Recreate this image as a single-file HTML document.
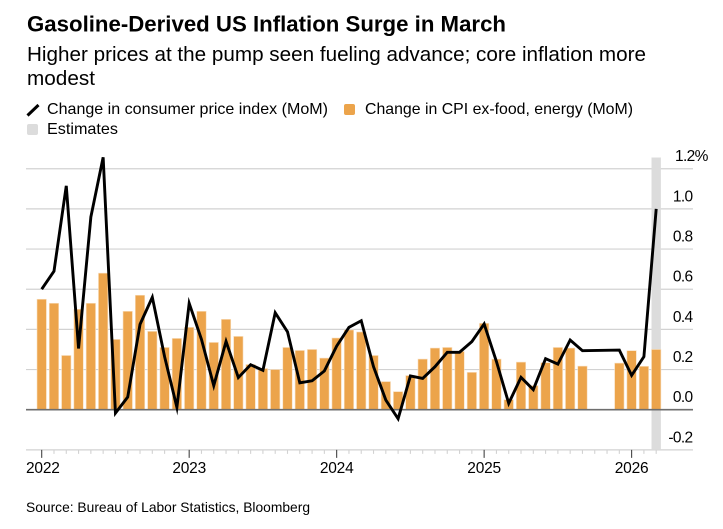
<!DOCTYPE html>
<html lang="en">
<head>
<meta charset="utf-8">
<title>Gasoline-Derived US Inflation Surge in March</title>
<style>
html,body{margin:0;padding:0;background:#fff;width:723px;height:529px;overflow:hidden}
svg{display:block;font-family:"Liberation Sans",sans-serif}
text{fill:#000}
</style>
</head>
<body>
<svg id="chart" width="723" height="529" viewBox="0 0 723 529" xmlns="http://www.w3.org/2000/svg">
  <rect x="0" y="0" width="723" height="529" fill="#fff"/>
  <text x="27" y="31.5" font-size="22" font-weight="700" textLength="479" lengthAdjust="spacingAndGlyphs">Gasoline-Derived US Inflation Surge in March</text>
  <text x="27" y="61" font-size="20.5" textLength="619" lengthAdjust="spacingAndGlyphs">Higher prices at the pump seen fueling advance; core inflation more</text>
  <text x="27" y="85" font-size="20.5" textLength="68" lengthAdjust="spacingAndGlyphs">modest</text>

  <line x1="27.5" y1="115.5" x2="38.5" y2="105" stroke="#000" stroke-width="3"/>
  <text x="47" y="114" font-size="16" textLength="281" lengthAdjust="spacingAndGlyphs">Change in consumer price index (MoM)</text>
  <rect x="344" y="104" width="11" height="11" rx="2" fill="#eca44b"/>
  <text x="365" y="114" font-size="16" textLength="268" lengthAdjust="spacingAndGlyphs">Change in CPI ex-food, energy (MoM)</text>
  <rect x="27" y="124" width="11" height="11" rx="2" fill="#dcdcdc"/>
  <text x="47" y="134" font-size="16" textLength="71" lengthAdjust="spacingAndGlyphs">Estimates</text>

  <g id="grid"></g>
  <g id="band"></g>
  <g id="bars"></g>
  <g id="zero"></g>
  <g id="ticks"></g>
  <g id="lines"></g>
  <g id="ylabels"></g>
  <g id="xlabels"></g>

  <text x="26" y="512" font-size="14" textLength="284" lengthAdjust="spacingAndGlyphs">Source: Bureau of Labor Statistics, Bloomberg</text>
</svg>
<script>
var years = [2022, 2023, 2024, 2025, 2026];
var yTicks = [1.2, 1.0, 0.8, 0.6, 0.4, 0.2, 0.0, -0.2];
var yTickLabels = ['1.2%', '1.0', '0.8', '0.6', '0.4', '0.2', '0.0', '-0.2'];
var estimateMonth = 50;
var coreCpi = [
  0.55, 0.53, 0.27, 0.50, 0.53, 0.68, 0.35, 0.49, 0.57, 0.39, 0.31, 0.355,
  0.41, 0.49, 0.335, 0.45, 0.365, 0.225, 0.205, 0.20, 0.31, 0.295, 0.30, 0.257,
  0.357, 0.397, 0.387, 0.27, 0.14, 0.09, 0.17, 0.252, 0.307, 0.31, 0.29, 0.186,
  0.43, 0.252, 0.05, 0.237, 0.12, 0.234, 0.31, 0.307, 0.217, null, null, 0.232,
  0.294, 0.216, 0.30
];
var headlineCpi = [
  0.60, 0.69, 1.115, 0.305, 0.96, 1.257, -0.017, 0.063, 0.425, 0.56, 0.264, 0.012,
  0.53, 0.35, 0.12, 0.34, 0.16, 0.224, 0.196, 0.483, 0.388, 0.134, 0.144, 0.193,
  0.317, 0.41, 0.443, 0.214, 0.048, -0.045, 0.168, 0.156, 0.214, 0.286, 0.286, 0.339,
  0.427, 0.24, 0.032, 0.161, 0.10, 0.254, 0.227, 0.347, 0.294, null, null, 0.297,
  0.171, 0.264, 1.0
];

var SVGNS = 'http://www.w3.org/2000/svg';
function xScale(i) { return 41.7 + i * 12.29; }
function yScale(v) { return 409.7 - v * 200.8; }
function make(tag, parentId, props) {
  var el = document.createElementNS(SVGNS, tag);
  for (var k in props) { el.setAttribute(k, props[k]); }
  document.getElementById(parentId).appendChild(el);
  return el;
}
var el, i;

yTicks.forEach(function (t, n) {
  if (t === 0) { return; }
  el = make('line', 'grid', { x1: 26, x2: 693, y1: yScale(t), y2: yScale(t), stroke: '#d2d2d2', 'stroke-width': 1.2 });
  
  
});

el = make('rect', 'band', {
  x: xScale(estimateMonth) - 4.7, y: 157.5, width: 9.4, height: yScale(-0.2) - 157.5, fill: '#dcdcdc'
});



coreCpi.forEach(function (v, m) {
  if (v === null) { return; }
  el = make('rect', 'bars', {
    x: xScale(m) - 4.7, y: yScale(v), width: 9.4, height: yScale(0) - yScale(v),
    fill: '#eca44b', stroke: '#f8dfc0', 'stroke-width': 0.6
  });
  
  
});

el = make('line', 'zero', { x1: 26, x2: 693, y1: yScale(0), y2: yScale(0), stroke: '#6e6e6e', 'stroke-width': 1.6 });



for (i = 0; i < coreCpi.length; i++) {
  var isYear = i % 12 === 0;
  el = make('line', 'ticks', {
    x1: xScale(i), x2: xScale(i), y1: yScale(-0.2), y2: yScale(-0.2) + (isYear ? 8 : 4),
    stroke: isYear ? '#444' : '#d2d2d2', 'stroke-width': 1.1
  });
  
  
}

var pts = [];
headlineCpi.forEach(function (v, m) {
  if (v !== null) { pts.push(xScale(m).toFixed(2) + ',' + yScale(v).toFixed(2)); }
});
el = make('polyline', 'lines', {
  points: pts.join(' '), fill: 'none', stroke: '#000', 'stroke-width': 2.9, 'stroke-linejoin': 'miter', 'stroke-miterlimit': 6
});



yTicks.forEach(function (t, n) {
  var isTop = n === 0;
  el = make('text', 'ylabels', {
    x: isTop ? 675 : 692.5, y: yScale(t) - 7.5, 'font-size': 15.5, 'text-anchor': isTop ? 'start' : 'end', 'letter-spacing': -0.65
  });
  el.textContent = yTickLabels[n];
  
  
});

years.forEach(function (yr, n) {
  var px = xScale(n * 12);
  el = make('text', 'xlabels', {
    x: n === 0 ? 26 : px, y: 473, 'font-size': 15.5, 'text-anchor': n === 0 ? 'start' : 'middle', 'letter-spacing': -0.2
  });
  el.textContent = yr;
  
  
});
</script>
</body>
</html>
